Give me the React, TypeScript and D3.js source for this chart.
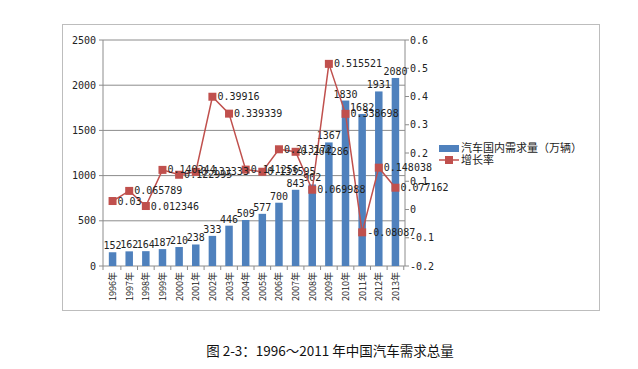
import * as d3 from "d3"

const years = ["1996年", "1997年", "1998年", "1999年", "2000年", "2001年", "2002年", "2003年", "2004年", "2005年", "2006年", "2007年", "2008年", "2009年", "2010年", "2011年", "2012年", "2013年"]
const demand = [152, 162, 164, 187, 210, 238, 333, 446, 509, 577, 700, 843, 902, 1367, 1830, 1682, 1931, 2080]
const growth = [0.03, 0.065789, 0.012346, 0.140244, 0.122995, 0.133333, 0.39916, 0.339339, 0.141256, 0.133595, 0.213172, 0.204286, 0.069988, 0.515521, 0.338698, -0.08087, 0.148038, 0.077162]
const leftTicks = [0, 500, 1000, 1500, 2000, 2500]
const rightTicks = [-0.2, -0.1, 0, 0.1, 0.2, 0.3, 0.4, 0.5, 0.6]
const title = "图 2-3：1996～2011 年中国汽车需求总量"
const legendBar = "汽车国内需求量（万辆）"
const legendLine = "增长率"

const W = 638
const H = 369
const plot = { left: 103, right: 405, top: 40, bottom: 266 }
const blue = "#4F81BD"
const red = "#C0504D"
const grid = "#8c8c8c"
const mono = "'DejaVu Sans Mono', 'Liberation Mono', monospace"
const cjk = "'Noto Sans CJK SC', 'Noto Sans', sans-serif"

export default function App() {
  const x = d3.scaleBand().domain(years).range([plot.left, plot.right]).paddingInner(0.55).paddingOuter(0.35)
  const yL = d3.scaleLinear().domain([0, 2500]).range([plot.bottom, plot.top])
  const yR = d3.scaleLinear().domain([-0.2, 0.6]).range([plot.bottom, plot.top])
  const bw = x.bandwidth()
  const step = x.step()
  const cx = (d: string) => (x(d) as number) + bw / 2

  const line = d3
    .line<number>()
    .x((_, i) => cx(years[i]))
    .y((d) => yR(d))

  return (
    <svg width={W} height={H} style={{ position: "absolute", left: 0, top: 0, background: "#fff" }}>
      <rect x={62.5} y={24.5} width={537} height={286} fill="#fff" stroke="#bdbdbd" />

      {/* gridlines */}
      {leftTicks.map((t) => (
        <line key={t} x1={plot.left} x2={plot.right} y1={yL(t)} y2={yL(t)} stroke={grid} strokeWidth={1} />
      ))}

      {/* left axis */}
      <line x1={plot.left} x2={plot.left} y1={plot.top} y2={plot.bottom} stroke={grid} />
      {leftTicks.map((t) => (
        <g key={t}>
          <line x1={plot.left - 4} x2={plot.left} y1={yL(t)} y2={yL(t)} stroke={grid} />
          <text x={96} y={yL(t)} dy="0.35em" textAnchor="end" fontSize={10} fontFamily={mono} fill="#222">
            {t}
          </text>
        </g>
      ))}

      {/* right axis */}
      <line x1={plot.right} x2={plot.right} y1={plot.top} y2={plot.bottom} stroke={grid} />
      {rightTicks.map((t) => (
        <g key={t}>
          <line x1={plot.right} x2={plot.right + 4} y1={yR(t)} y2={yR(t)} stroke={grid} />
          <text x={410} y={yR(t)} dy="0.35em" fontSize={10} fontFamily={mono} fill="#222">
            {String(Math.round(t * 10) / 10)}
          </text>
        </g>
      ))}

      {/* x axis ticks and labels */}
      {years.map((d) => (
        <g key={d}>
          <line x1={cx(d) + step / 2} x2={cx(d) + step / 2} y1={plot.bottom} y2={plot.bottom + 4} stroke={grid} />
          <text
            transform={`translate(${cx(d) + 3.5},${plot.bottom + 6}) rotate(-90)`}
            textAnchor="end"
            fontSize={9}
            fontFamily={cjk}
            fill="#222"
          >
            {d}
          </text>
        </g>
      ))}
      <line x1={plot.left} x2={plot.left} y1={plot.bottom} y2={plot.bottom + 4} stroke={grid} />

      {/* bars */}
      {demand.map((v, i) => (
        <rect key={i} x={x(years[i])} y={yL(v)} width={bw} height={plot.bottom - yL(v)} fill={blue} />
      ))}
      {demand.map((v, i) => (
        <text key={i} x={cx(years[i])} y={yL(v) - 3} textAnchor="middle" fontSize={10} fontFamily={mono} fill="#222">
          {v}
        </text>
      ))}

      {/* growth line */}
      <path d={line(growth) as string} fill="none" stroke={red} strokeWidth={1.5} />
      {growth.map((g, i) => (
        <rect key={i} x={cx(years[i]) - 4} y={yR(g) - 4} width={8} height={8} fill={red} />
      ))}
      {growth.map((g, i) => (
        <text key={i} x={cx(years[i]) + 5} y={yR(g)} dy="0.35em" fontSize={10} fontFamily={mono} fill="#222">
          {String(g)}
        </text>
      ))}

      {/* legend */}
      <rect x={439} y={145} width={20} height={7} fill={blue} />
      <text x={461} y={148.5} dy="0.35em" fontSize={11} fontFamily={cjk} fill="#222">
        {legendBar}
      </text>
      <line x1={439} x2={459} y1={160} y2={160} stroke={red} strokeWidth={1.5} />
      <rect x={445} y={156} width={8} height={8} fill={red} />
      <text x={461} y={160} dy="0.35em" fontSize={11} fontFamily={cjk} fill="#222">
        {legendLine}
      </text>

      {/* title */}
      <text x={330} y={351} dy="0.35em" textAnchor="middle" fontSize={13.5} fontFamily={cjk} fill="#111">
        {title}
      </text>
    </svg>
  )
}
